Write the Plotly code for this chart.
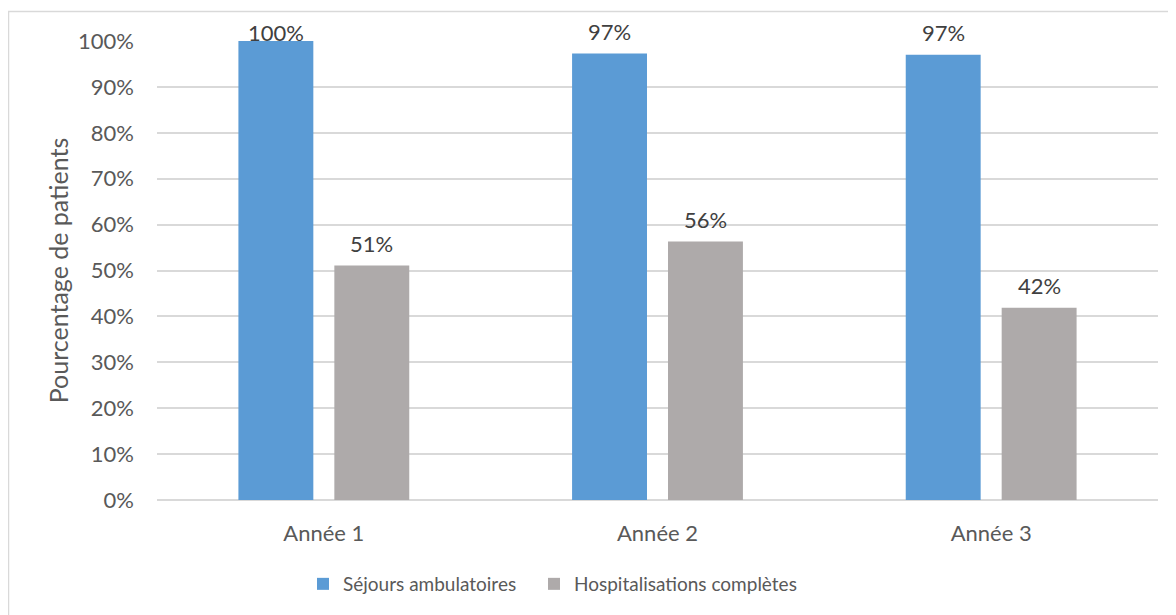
import plotly.graph_objects as go

categories = ["Année 1", "Année 2", "Année 3"]
sejours_ambulatoires = [1.000, 0.973, 0.970]
hospitalisations_completes = [0.511, 0.563, 0.419]
y_ticks = [0, 0.1, 0.2, 0.3, 0.4, 0.5, 0.6, 0.7, 0.8, 0.9, 1.0]

FONT = "Lato"
OFF = 8  # page body margin
W, H = 1176 - OFF, 615 - OFF
L, R, T, B = 157 - OFF, 18, 41 - OFF, 115
pw, ph = W - L - R, H - T - B

BLUE = "#5B9BD5"
GREY = "#AEAAAA"


def px_x(x):
    return (x - OFF - L) / pw


def px_y(y):
    return (H - B - (y - OFF)) / ph


fig = go.Figure()
fig.add_trace(go.Bar(
    x=categories, y=sejours_ambulatoires, name="Séjours ambulatoires",
    marker=dict(color=BLUE, line=dict(width=0)), legend="legend2", showlegend=True,
))
fig.add_trace(go.Bar(
    x=categories, y=hospitalisations_completes, name="Hospitalisations complètes",
    marker=dict(color=GREY, line=dict(width=0)), legend="legend3", showlegend=True,
))

annotations = []
for series, xs in ((sejours_ambulatoires, -48), (hospitalisations_completes, 48)):
    for cat, v in zip(categories, series):
        ys = 9 if v >= 0.995 else 22
        annotations.append(dict(
            x=cat, y=v, xref="x", yref="y", text=f"{v:.0%}", showarrow=False,
            xshift=xs, yshift=ys, yanchor="middle",
            font=dict(family=FONT, size=22, color="#404040"),
        ))


def legend_style(xpx):
    return dict(orientation="h", x=px_x(xpx), xanchor="left", y=px_y(584), yanchor="middle",
                font=dict(size=19, color="#595959"), itemwidth=30,
                bgcolor="rgba(0,0,0,0)", visible=True)


fig.update_layout(
    width=W, height=H,
    margin=dict(l=L, r=R, t=T, b=B),
    paper_bgcolor="white", plot_bgcolor="white",
    barmode="group", bargap=0.425, bargroupgap=0.219,
    font=dict(family=FONT, size=22, color="#595959"),
    xaxis=dict(showgrid=False, showline=False, ticks="", ticklabelstandoff=18,
               tickfont=dict(size=22, color="#595959")),
    yaxis=dict(range=[0, 1.0], tickvals=y_ticks, tickformat=".0%",
               showgrid=True, gridcolor="#D9D9D9", gridwidth=1.5,
               zeroline=True, zerolinecolor="#D9D9D9", zerolinewidth=1.5,
               showline=False, ticks="", ticklen=0, ticklabelstandoff=22,
               tickfont=dict(size=22, color="#595959"),
               title=dict(text="Pourcentage de patients", font=dict(size=25, color="#595959"), standoff=2)),
    legend2=legend_style(303),
    legend3=legend_style(534),
    annotations=annotations,
    shapes=[dict(type="rect", xref="paper", yref="paper",
                 x0=px_x(8.5), x1=px_x(1200), y0=px_y(640), y1=px_y(11.5),
                 line=dict(color="#D9D9D9", width=1.5), fillcolor="rgba(0,0,0,0)", layer="below")],
)

fig.write_html("out.html")
